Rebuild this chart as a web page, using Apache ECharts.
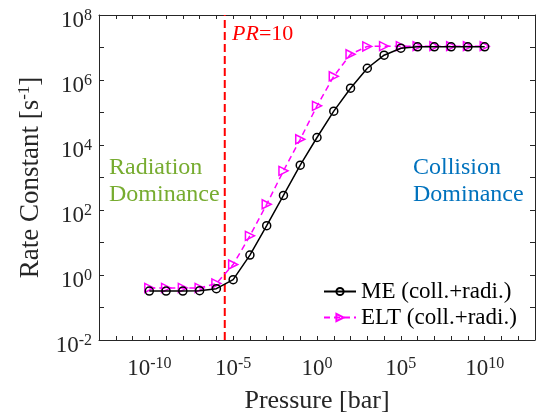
<!DOCTYPE html>
<html>
<head>
<meta charset="utf-8">
<script src="https://cdn.jsdelivr.net/npm/echarts@6/dist/echarts.min.js"></script>
<style>
  html, body { margin: 0; padding: 0; background: #fff; }
  #chart { width: 541px; height: 419px; }
</style>
</head>
<body>
<div id="chart"></div>
<script>
// pressure points [bar]
const pressure = [1e-10, 1e-9, 1e-8, 1e-7, 1e-6, 1e-5, 1e-4, 1e-3, 1e-2, 1e-1, 1e0,
                  1e1, 1e2, 1e3, 1e4, 1e5, 1e6, 1e7, 1e8, 1e9, 1e10]
// rate constants [s^-1]
const meRate = [0.32, 0.32, 0.32, 0.33, 0.38, 0.72, 4.1, 33, 280, 2400, 1.7e4,
                1.1e5, 5.6e5, 2.3e6, 5.8e6, 9.5e6, 1.05e7, 1.05e7, 1.05e7, 1.05e7, 1.05e7]
const eltRate = [0.4, 0.4, 0.4, 0.4, 0.55, 2.1, 16, 150, 1600, 1.5e4, 1.6e5,
                 1.3e6, 6.2e6, 1.08e7, 1.1e7, 1.1e7, 1.1e7, 1.1e7, 1.1e7, 1.1e7, 1.1e7]
// PR=10 boundary
const prLine = [[3.16e-6, 1e-2], [3.16e-6, 1e8]]
const seriesNames = ['ME (coll.+radi.)', 'ELT (coll.+radi.)']

const font = 'Liberation Serif'
const axisColor = '#262626'

const supLabel = function (v, step) {
    let e = Math.round(Math.log10(v))
    if (e % step !== 0) return ''
    return '{b|10}{s|' + e + '}'
}
const labelRich = {
    b: { fontFamily: font, fontSize: 23, color: axisColor },
    s: { fontFamily: font, fontSize: 16, color: axisColor, padding: [0, 0, 10, 0] }
}

let myChart = echarts.init(document.getElementById('chart'))
myChart.setOption({
    animation: false,
    grid: { left: 99, right: 6, top: 15, bottom: 73.5 },
    xAxis: [
        {
            type: 'log', logBase: 10, min: 1e-13, max: 1e13, interval: 1,
            name: 'Pressure [bar]', nameLocation: 'middle', nameGap: 48,
            nameTextStyle: { fontFamily: font, fontSize: 26, color: axisColor },
            axisLine: { lineStyle: { color: axisColor, width: 1 } },
            axisTick: { inside: true, length: 4, lineStyle: { color: axisColor } },
            axisLabel: { formatter: v => supLabel(v, 5), rich: labelRich, margin: 16 },
            splitLine: { show: false }
        },
        {
            type: 'log', logBase: 10, min: 1e-13, max: 1e13, interval: 1, position: 'top',
            axisLine: { lineStyle: { color: axisColor, width: 1 } },
            axisTick: { inside: true, length: 4, lineStyle: { color: axisColor } },
            axisLabel: { show: false },
            splitLine: { show: false }
        }
    ],
    yAxis: [
        {
            type: 'log', logBase: 10, min: 1e-2, max: 1e8, interval: 1,
            name: '{a|Rate Constant [s}{s|-1}{a|]}', nameLocation: 'middle', nameGap: 52,
            nameTextStyle: {
                rich: {
                    a: { fontFamily: font, fontSize: 27, color: axisColor },
                    s: { fontFamily: font, fontSize: 17, color: axisColor, padding: [0, 0, 13, 0] }
                }
            },
            axisLine: { lineStyle: { color: axisColor, width: 1 } },
            axisTick: { inside: true, length: 5, lineStyle: { color: axisColor } },
            axisLabel: { formatter: v => supLabel(v, 2), rich: labelRich, margin: 7, padding: [12, 0, 0, 0] },
            splitLine: { show: false }
        },
        {
            type: 'log', logBase: 10, min: 1e-2, max: 1e8, interval: 1, position: 'right',
            axisLine: { lineStyle: { color: axisColor, width: 1 } },
            axisTick: { inside: true, length: 5, lineStyle: { color: axisColor } },
            axisLabel: { show: false },
            splitLine: { show: false }
        }
    ],
    legend: {
        orient: 'vertical', left: 318, top: 275, itemGap: 3,
        itemWidth: 32, itemHeight: 9,
        textStyle: { fontFamily: font, fontSize: 23, color: '#000' },
        data: seriesNames
    },
    graphic: [
        { type: 'text', left: 109, top: 154, style: { text: 'Radiation\nDominance', fill: '#77AC30', fontFamily: font, fontSize: 24, lineHeight: 27 } },
        { type: 'text', left: 413, top: 154, style: { text: 'Collision\nDominance', fill: '#0072BD', fontFamily: font, fontSize: 24, lineHeight: 27 } },
        { type: 'text', left: 232, top: 23, style: {
            text: '{i|PR}{n|=10}',
            rich: {
                i: { fontFamily: font, fontSize: 22, fontStyle: 'italic', fill: '#FF0000' },
                n: { fontFamily: font, fontSize: 22, fill: '#FF0000' }
            }
        } }
    ],
    series: [
        {
            name: 'PR', type: 'line', data: prLine,
            symbol: 'none', silent: true,
            lineStyle: { color: '#FF0000', type: [8, 4], width: 2 },
            z: 1
        },
        {
            name: seriesNames[0], type: 'line',
            data: pressure.map((p, i) => [p, meRate[i]]),
            symbol: 'circle', symbolSize: 8,
            lineStyle: { color: '#000', width: 1.5 },
            itemStyle: { color: 'rgba(0,0,0,0)', borderColor: '#000', borderWidth: 1.5 },
            z: 3
        },
        {
            name: seriesNames[1], type: 'line',
            data: pressure.map((p, i) => [p, eltRate[i]]),
            symbol: 'triangle', symbolRotate: -90, symbolSize: 9,
            lineStyle: { color: '#FF00FF', width: 1.5, type: [6, 4] },
            itemStyle: { color: 'rgba(0,0,0,0)', borderColor: '#FF00FF', borderWidth: 1.5 },
            z: 2
        }
    ]
})
</script>
</body>
</html>
